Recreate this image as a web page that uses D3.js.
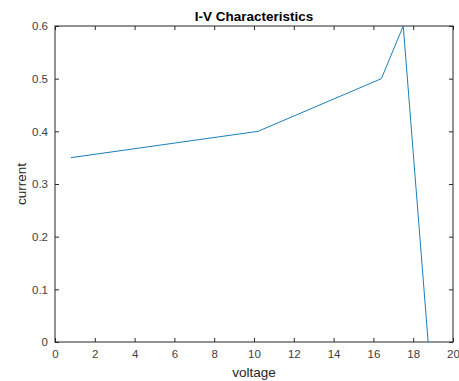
<!DOCTYPE html>
<html lang="en">
<head>
  <meta charset="UTF-8">
  <script src="https://d3js.org/d3.v7.min.js"></script>
  <style>
    body { margin: 0; background: #ffffff; font-family: "Liberation Sans", Arial, sans-serif; }
    .tick text { fill: #404040; font-size: 11.5px; }
    .label { fill: #262626; font-size: 13.5px; }
  </style>
</head>
<body>
  <div id="chart"></div>
  <script>
    // I-V curve
    const voltage = [0.8, 10.2, 16.4, 17.5, 18.75];
    const current = [0.35, 0.40, 0.50, 0.60, 0.0];
    const xTicks = [0, 2, 4, 6, 8, 10, 12, 14, 16, 18, 20];
    const yTicks = [0, 0.1, 0.2, 0.3, 0.4, 0.5, 0.6];

    const width = 459, height = 381;
    const margin = { top: 26, right: 6, bottom: 39, left: 55 };

    const svg = d3.select("#chart").append("svg")
      .attr("width", width)
      .attr("height", height);

    const x = d3.scaleLinear().domain([0, 20]).range([margin.left, width - margin.right]);
    const y = d3.scaleLinear().domain([0, 0.6]).range([height - margin.bottom, margin.top]);

    const axisColor = "#262626";

    // box with ticks on all four sides, pointing inward
    const gBottom = svg.append("g")
      .attr("transform", `translate(0,${y(0)})`)
      .call(d3.axisBottom(x).tickValues(xTicks).tickSize(-4).tickPadding(8).tickFormat(d3.format("d")));
    const gTop = svg.append("g")
      .attr("transform", `translate(0,${y(0.6)})`)
      .call(d3.axisTop(x).tickValues(xTicks).tickSize(-4).tickFormat(""));
    const gLeft = svg.append("g")
      .attr("transform", `translate(${x(0)},0)`)
      .call(d3.axisLeft(y).tickValues(yTicks).tickSize(-4).tickPadding(7).tickFormat(d => d === 0 ? "0" : d3.format(".1f")(d)));
    const gRight = svg.append("g")
      .attr("transform", `translate(${x(20)},0)`)
      .call(d3.axisRight(y).tickValues(yTicks).tickSize(-4).tickFormat(""));

    [gBottom, gTop, gLeft, gRight].forEach(g => {
      g.selectAll(".tick line").attr("stroke", axisColor);
      g.selectAll(".tick text").style("font-family", "Liberation Sans, Arial, sans-serif");
    });
    // plain box instead of the domain paths
    svg.selectAll(".domain").remove();
    svg.append("rect")
      .attr("x", x(0)).attr("y", y(0.6))
      .attr("width", x(20) - x(0)).attr("height", y(0) - y(0.6))
      .attr("fill", "none").attr("stroke", axisColor).attr("stroke-width", 1);

    const line = d3.line()
      .x((d, i) => x(voltage[i]))
      .y(d => y(d));

    svg.append("path")
      .datum(current)
      .attr("d", line)
      .attr("fill", "none")
      .attr("stroke", "#1a7fb8")
      .attr("stroke-width", 1);

    svg.append("text")
      .attr("x", (x(0) + x(20)) / 2)
      .attr("y", 21)
      .attr("text-anchor", "middle")
      .style("font-size", "13.5px")
      .style("font-weight", "bold")
      .attr("fill", "#000")
      .text("I-V Characteristics");

    svg.append("text")
      .attr("class", "label")
      .attr("x", (x(0) + x(20)) / 2)
      .attr("y", 377)
      .attr("text-anchor", "middle")
      .text("voltage");

    svg.append("text")
      .attr("class", "label")
      .attr("transform", `translate(26,${(y(0) + y(0.6)) / 2}) rotate(-90)`)
      .attr("text-anchor", "middle")
      .text("current");
  </script>
</body>
</html>
